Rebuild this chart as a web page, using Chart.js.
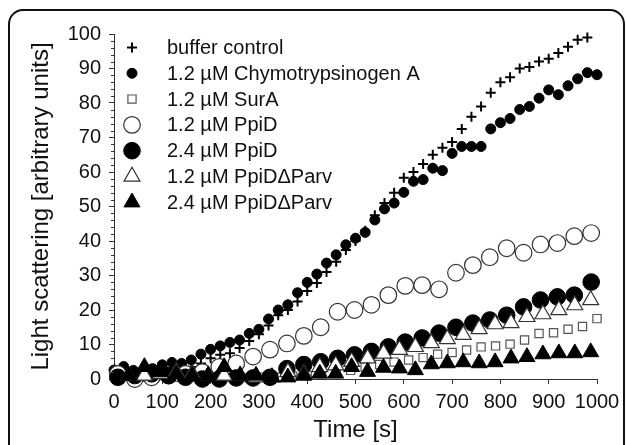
<!DOCTYPE html>
<html>
<head>
<meta charset="utf-8">
<script src="https://cdn.jsdelivr.net/npm/chart.js@4.4.0/dist/chart.umd.min.js"></script>
<style>
  html, body { margin: 0; padding: 0; background: #fff; }
  #wrap { width: 627px; height: 445px; }
</style>
</head>
<body>
<div id="wrap"><canvas id="scatterChart" width="627" height="445"></canvas></div>
<script>
/* Data (time in s, light scattering in arbitrary units) */
const timeBuffer = [0, 20, 40, 60, 80, 100, 120, 140, 160, 180, 200, 220, 240, 260, 280, 300, 320, 340, 360, 380,
  400, 420, 440, 460, 480, 500, 520, 540, 560, 580, 600, 620, 640, 660, 680, 700, 720, 740, 760, 780,
  800, 820, 840, 860, 880, 900, 920, 940, 960, 980];
const bufferControl = [2, 2, 1.5, 1.5, 1.5, 2, 2.5, 4, 3.5, 4.5, 6, 7, 7.5, 9, 11, 13, 15.5, 18.5, 20, 22.5,
  25.5, 27.8, 31, 34, 37.4, 40, 43, 47.5, 51, 54, 58.3, 60, 62.3, 65, 67, 68.7, 72.5, 76, 79, 83,
  86, 87.5, 90, 90.4, 92, 92.8, 94.5, 96.3, 98.3, 99];

const timeChymo = [0, 20, 40, 60, 80, 100, 120, 140, 160, 180, 200, 220, 240, 260, 280, 300, 320, 340, 360, 380,
  400, 420, 440, 460, 480, 500, 520, 540, 560, 580, 600, 620, 640, 660, 680, 700, 720, 740, 760, 780,
  800, 820, 840, 860, 880, 900, 920, 940, 960, 980, 1000];
const chymotrypsinogen = [2.6, 3.6, 2.5, 2, 3, 4.1, 4.8, 4.5, 5.5, 7.2, 8.6, 9.6, 10.6, 11.3, 13.2, 14.4, 17.4, 20, 21.5, 25,
  28, 30.4, 33.6, 36, 38.9, 40.8, 42.5, 46.1, 49.3, 51, 54.1, 57.3, 57.8, 61.1, 60.4, 65.4, 67.4, 67.4, 67.4, 72.5,
  74.3, 75.5, 78.1, 79, 81.4, 83.8, 82.4, 85, 87, 88.8, 88.2];

const timeSurA = [10, 40, 70, 100, 130, 160, 190, 220, 250, 280, 310, 340, 370, 400, 430, 460, 490,
  520, 550, 580, 610, 640, 670, 700, 730, 760, 790, 820, 850, 880, 910, 940, 970, 1000];
const surA = [1, 0.5, 0.5, 1, 0.5, 0.5, 0.5, 0.5, 0.5, 0.3, 0.5, 0.5, 0.8, 1, 1.5, 2, 2.5,
  3.5, 4.2, 4.9, 5.5, 6.2, 7.2, 7.7, 8.4, 9.3, 9.6, 10.1, 11.3, 13.2, 13.4, 14.4, 15.2, 17.5];

const timePpiD = [8, 43, 78, 113, 148, 183, 218, 253, 288, 323, 358, 393, 428, 463, 498,
  533, 568, 603, 638, 673, 708, 743, 778, 813, 848, 883, 918, 953, 988];
const ppiD12 = [1.5, 0, 0.5, 1, 1.5, 2, 3.5, 4.5, 6.5, 8.5, 10.3, 12.5, 15, 19.5, 20,
  21.5, 24.3, 27, 27.2, 26, 30.8, 33, 35.3, 37.9, 36.6, 39, 39.4, 41.4, 42.3];
const ppiD24 = [0.5, 1, 1.5, 1, 0.5, 0, 0, 0.3, 0.3, 0.5, 3, 4.2, 5, 6, 7,
  8, 9.3, 10.7, 11.9, 13.3, 15, 16.2, 17.1, 18.5, 20.9, 22.9, 23.8, 24.3, 28.1];

const timeParv = [30, 63, 96, 129, 162, 195, 228, 261, 294, 327, 360, 393, 426, 459, 492,
  525, 558, 591, 624, 657, 690, 723, 756, 789, 822, 855, 888, 921, 954, 987];
const parv12 = [1, 1, 1.5, 2, 1.5, 1, 1, 1, 0.5, 0.5, 2, 1.5, 3.5, 4, 5,
  6, 7.4, 8.5, 9.3, 10.4, 11.6, 12.8, 14.5, 15.9, 16.2, 18, 18.8, 20, 21.4, 22.9];
const parv24 = [1, 3.5, 2, 1.5, 1, 1, 3.5, 1, 1, 0.5, 0.5, 1, 1.6, 1.6, 3.5,
  2.1, 3.3, 3.1, 2.6, 4.3, 4.6, 4.9, 4.6, 4.9, 6, 6.4, 7.2, 7.5, 7.5, 7.8];

const seriesLabels = ['buffer control', '1.2 \u00b5M Chymotrypsinogen A', '1.2 \u00b5M SurA',
  '1.2 \u00b5M PpiD', '2.4 \u00b5M PpiD', '1.2 \u00b5M PpiD\u0394Parv', '2.4 \u00b5M PpiD\u0394Parv'];

const xTitle = 'Time [s]';
const yTitle = 'Light scattering [arbitrary units]';

const fontFamily = 'Arial, "Liberation Sans", Helvetica, sans-serif';
const inkColor = '#111';

function toPoints(xs, ys) {
  return xs.map((x, i) => ({ x: x, y: ys[i] }));
}

function makeDataset(idx, xs, ys, style, radius, fill, stroke, width) {
  return {
    label: seriesLabels[idx],
    data: toPoints(xs, ys),
    pointStyle: style,
    pointRadius: radius,
    pointHoverRadius: radius,
    pointBackgroundColor: fill,
    pointBorderColor: stroke,
    pointBorderWidth: width,
    backgroundColor: fill,
    borderColor: stroke,
    borderWidth: width,
    showLine: false,
    clip: false,
    order: 10 - idx   // later series are drawn on top
  };
}

const datasets = [
  makeDataset(0, timeBuffer, bufferControl, 'cross', 5, '#000', '#000', 2),
  makeDataset(1, timeChymo, chymotrypsinogen, 'circle', 5, '#000', '#000', 1),
  makeDataset(2, timeSurA, surA, 'rect', 5.8, '#fff', '#555', 1.2),
  makeDataset(3, timePpiD, ppiD12, 'circle', 8.3, '#fff', '#333', 1.2),
  makeDataset(4, timePpiD, ppiD24, 'circle', 8.3, '#000', '#000', 1),
  makeDataset(5, timeParv, parv12, 'triangle', 9.2, '#fff', '#333', 1.2),
  makeDataset(6, timeParv, parv24, 'triangle', 9.2, '#000', '#000', 1)
];

// rounded frame around the figure
const framePlugin = {
  id: 'frame',
  afterDraw(chart) {
    const ctx = chart.ctx;
    const l = 9, t = 10, r = 624, b = 460, rad = 14;
    ctx.save();
    ctx.strokeStyle = '#111';
    ctx.lineWidth = 2;
    ctx.beginPath();
    ctx.moveTo(l, b);
    ctx.lineTo(l, t + rad);
    ctx.arcTo(l, t, l + rad, t, rad);
    ctx.lineTo(r - rad, t);
    ctx.arcTo(r, t, r, t + rad, rad);
    ctx.lineTo(r, b);
    ctx.stroke();
    ctx.restore();
  }
};

// minor ticks on the y axis (every 2 units)
const minorTicksPlugin = {
  id: 'minorTicks',
  afterDraw(chart) {
    const ctx = chart.ctx;
    const ys = chart.scales.y;
    const axisX = ys.right;
    ctx.save();
    ctx.strokeStyle = '#333';
    ctx.lineWidth = 1;
    ctx.beginPath();
    for (let v = 2; v < 100; v += 2) {
      if (v % 10 === 0) continue;
      const py = Math.round(ys.getPixelForValue(v)) + 0.5;
      ctx.moveTo(axisX - 3, py);
      ctx.lineTo(axisX, py);
    }
    ctx.stroke();
    ctx.restore();
  }
};

// legend inside the plot, markers keep their own sizes
const legendPlugin = {
  id: 'insideLegend',
  afterDatasetsDraw(chart) {
    const ctx = chart.ctx;
    const markerX = 132, textX = 167, firstY = 47.5, step = 25.8;
    ctx.save();
    chart.data.datasets.forEach((ds, i) => {
      const y = firstY + i * step;
      ctx.fillStyle = ds.pointBackgroundColor;
      ctx.strokeStyle = ds.pointBorderColor;
      ctx.lineWidth = ds.pointBorderWidth;
      Chart.helpers.drawPoint(ctx, {
        pointStyle: ds.pointStyle,
        radius: ds.pointRadius,
        rotation: 0,
        borderWidth: ds.pointBorderWidth
      }, markerX, y);
      ctx.fillStyle = inkColor;
      ctx.font = '20px ' + fontFamily;
      ctx.textAlign = 'left';
      ctx.textBaseline = 'middle';
      ctx.fillText(ds.label, textX, y + 1);
    });
    ctx.restore();
  }
};

const ctxScatter = document.getElementById('scatterChart').getContext('2d');

const scatterChart = new Chart(ctxScatter, {
  type: 'scatter',
  data: { datasets: datasets },
  plugins: [legendPlugin, minorTicksPlugin, framePlugin],
  options: {
    responsive: false,
    animation: false,
    devicePixelRatio: 1,
    layout: { padding: { top: 34, right: 30, left: 0, bottom: 0 } },
    plugins: {
      legend: { display: false },
      tooltip: { enabled: false }
    },
    scales: {
      x: {
        type: 'linear',
        position: 'bottom',
        min: 0,
        max: 1000,
        ticks: {
          stepSize: 100,
          color: inkColor,
          font: { size: 20, family: fontFamily },
          padding: 6,
          maxRotation: 0,
          autoSkip: false,
          callback: (value) => String(value)
        },
        grid: { drawOnChartArea: false, drawTicks: true, tickLength: 5, color: '#333' },
        border: { display: true, color: '#333', width: 1 },
        title: {
          display: true,
          text: xTitle,
          color: inkColor,
          font: { size: 24, family: fontFamily },
          padding: { top: 0, bottom: 0 }
        },
        afterFit(scale) { scale.height = 66; }
      },
      y: {
        type: 'linear',
        position: 'left',
        min: 0,
        max: 100,
        ticks: {
          stepSize: 10,
          color: inkColor,
          font: { size: 20, family: fontFamily },
          padding: 8,
          callback: (value) => String(value)
        },
        grid: { drawOnChartArea: false, drawTicks: true, tickLength: 5, color: '#333' },
        border: { display: true, color: '#333', width: 1 },
        title: {
          display: true,
          text: yTitle,
          color: inkColor,
          font: { size: 24, family: fontFamily },
          padding: { top: 27, bottom: 0 }
        },
        afterFit(scale) { scale.width = 114; }
      }
    }
  }
});
</script>
</body>
</html>
